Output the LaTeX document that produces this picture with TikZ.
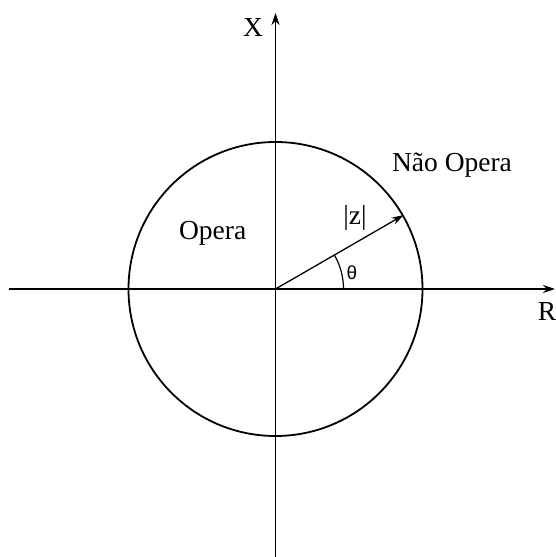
\documentclass[tikz,border=0pt]{standalone}
\usepackage{fontspec}
\setmainfont{Liberation Serif}
\newfontfamily\thetafont{Liberation Sans}
\usetikzlibrary{arrows.meta}
\begin{document}
\begin{tikzpicture}[x=1pt,y=1pt,
  axis/.style={line width=1.6pt,-{Stealth[length=12pt,width=8pt]}},
  lbl/.style={inner sep=0pt,font=\fontsize{27.5}{30}\selectfont},
  vec/.style={line width=1.3pt,-{Stealth[length=12pt,width=7.5pt]}}]
\useasboundingbox (0,0) rectangle (555,557);
\coordinate (O) at (275.5,268);
\coordinate (xl) at (8.7,268);
\coordinate (xr) at (555,268);
\coordinate (yb) at (275.5,0);
\coordinate (yt) at (275.5,544);
\draw[axis] (xl) -- (xr);
\draw[axis] (yb) -- (yt);
\node[circle,draw,line width=1.8pt,minimum size=294pt,inner sep=0pt] (c) at (O) {};
\draw[vec] (O) -- (c.30);
\draw[line width=1.2pt] ([shift={(0:68)}]O) arc[start angle=0,end angle=30,radius=68];
\node[lbl] (X) at (253,529) {X};
\node[lbl] (R) at (547,246) {R};
\node[lbl] (op) at (212.7,324) {Opera};
\node[lbl] (nop) at (452,392) {Não Opera};
\node[lbl] (z) at (355,339) {|z|};
\node[inner sep=0pt,font=\thetafont\fontsize{19}{21}\selectfont] (th) at (352,284) {θ};
\end{tikzpicture}
\end{document}
